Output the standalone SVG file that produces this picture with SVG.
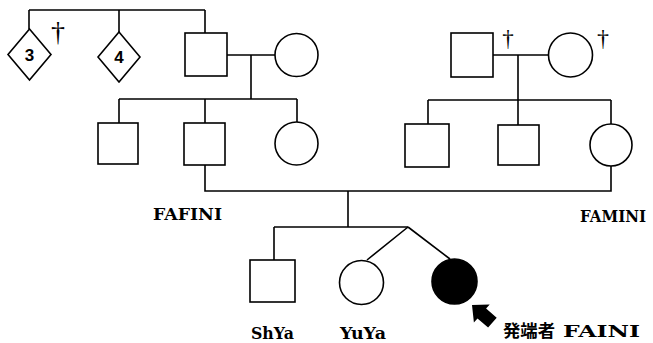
<svg xmlns="http://www.w3.org/2000/svg" width="653" height="343" viewBox="0 0 653 343">
  <style>
    .shape { fill: #fff; stroke: #000; stroke-width: 1.6; }
    .affected { fill: #000; stroke: #000; stroke-width: 1.6; }
    .line { fill: none; stroke: #000; stroke-width: 1.6; }
    text { fill: #000; }
    .num { font-family: "Liberation Sans", Arial, sans-serif; font-weight: bold; font-size: 17px; text-anchor: middle; }
    .dag { font-family: "Liberation Serif", "Times New Roman", serif; font-size: 28px; text-anchor: middle; }
    .lbl { font-family: "DejaVu Serif", "Liberation Serif", serif; font-weight: bold; font-size: 17px; }
    .cjk { font-family: "Noto Sans CJK JP", "Noto Sans CJK SC", sans-serif; font-weight: bold; font-size: 17px; }
  </style>
  <rect width="653" height="343" fill="#fff"/>

  <!-- connectors -->
  <g id="connectors" class="line">
    <!-- paternal grandparents' sibship -->
    <path d="M29 10 H205 M29 10 V29 M119 10 V32 M205 10 V33"/>
    <!-- paternal couple and children -->
    <path d="M227 55 H275 M251 55 V99 M119 99 H297 M119 99 V123 M205 99 V123 M297 99 V122"/>
    <!-- maternal couple and children -->
    <path d="M493 55 H548 M518 55 V100 M428 100 H611 M428 100 V124 M518 100 V125 M611 100 V124"/>
    <!-- parents' marriage -->
    <path d="M205 165 V191 H611 V166"/>
    <!-- children -->
    <path d="M348 191 V227 M274 227 H408 M274 227 V260"/>
    <!-- twins -->
    <path d="M408 227 L367 260 M408 227 L450 259"/>
  </g>

  <!-- generation I -->
  <g id="sib3">
    <polygon class="shape" points="29.5,29 51,54.5 29.5,80 8,54.5"/>
    <text class="num" x="29.5" y="61">3</text>
    <text class="dag" x="58" y="41">†</text>
  </g>
  <g id="sib4">
    <polygon class="shape" points="119,32 140,57 119,82 98,57"/>
    <text class="num" x="119" y="63">4</text>
  </g>
  <g id="paternal-grandfather">
    <rect class="shape" x="185" y="33" width="42" height="43"/>
  </g>
  <g id="paternal-grandmother">
    <circle class="shape" cx="296.5" cy="55" r="21.5"/>
  </g>
  <g id="maternal-grandfather">
    <rect class="shape" x="451" y="33" width="42" height="44"/>
    <text class="dag" x="508" y="46" style="font-size:23px">†</text>
  </g>
  <g id="maternal-grandmother">
    <circle class="shape" cx="570.5" cy="55" r="22"/>
    <text class="dag" x="603" y="46" style="font-size:24px">†</text>
  </g>

  <!-- generation II -->
  <g id="paternal-uncle">
    <rect class="shape" x="98" y="123" width="40" height="41"/>
  </g>
  <g id="father">
    <rect class="shape" x="184" y="123" width="41" height="42"/>
    <text class="lbl" x="153" y="220" textLength="69" lengthAdjust="spacingAndGlyphs">FAFINI</text>
  </g>
  <g id="paternal-aunt">
    <circle class="shape" cx="296.5" cy="143.5" r="21.5"/>
  </g>
  <g id="maternal-uncle1">
    <rect class="shape" x="405" y="124" width="44" height="43"/>
  </g>
  <g id="maternal-uncle2">
    <rect class="shape" x="498" y="125" width="41" height="40"/>
  </g>
  <g id="mother">
    <circle class="shape" cx="611" cy="145" r="21"/>
    <text class="lbl" x="580" y="222" textLength="66" lengthAdjust="spacingAndGlyphs">FAMINI</text>
  </g>

  <!-- generation III -->
  <g id="ShYa">
    <rect class="shape" x="250" y="260" width="45" height="42"/>
    <text class="lbl" x="251" y="339" textLength="43" lengthAdjust="spacingAndGlyphs">ShYa</text>
  </g>
  <g id="YuYa">
    <circle class="shape" cx="361.5" cy="282.5" r="22"/>
    <text class="lbl" x="340" y="339" textLength="46" lengthAdjust="spacingAndGlyphs">YuYa</text>
  </g>
  <g id="FAINI">
    <circle class="affected" cx="454.5" cy="281.5" r="22.5"/>
    <!-- proband arrow -->
    <polygon fill="#000" points="472,305 489.7,304.5 486.1,308.6 496.7,317.8 488.1,327.6 477.5,318.4 473.9,322.5"/>
    <text class="cjk" x="503" y="337" textLength="52" lengthAdjust="spacingAndGlyphs">発端者</text>
    <text class="lbl" x="563" y="337" textLength="77" lengthAdjust="spacingAndGlyphs">FAINI</text>
  </g>
</svg>
